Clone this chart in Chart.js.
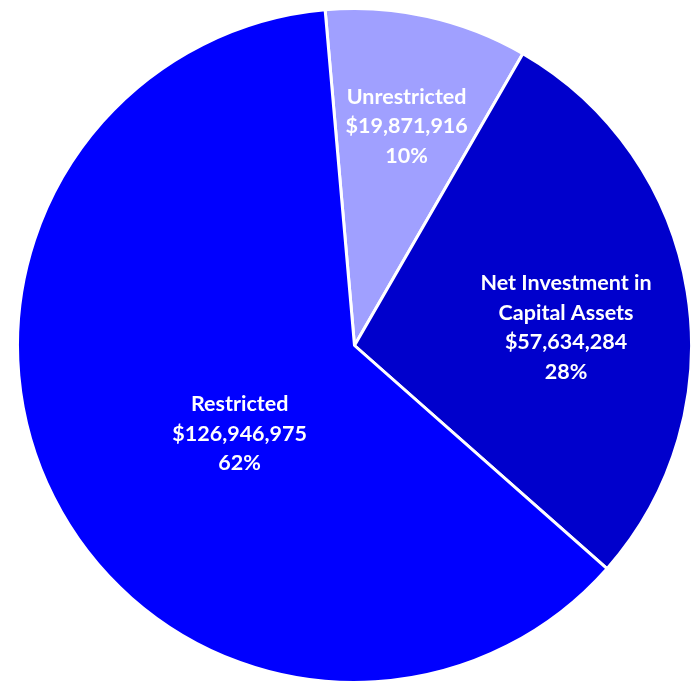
<!DOCTYPE html>
<html>
<head>
<meta charset="utf-8">
<script src="https://cdn.jsdelivr.net/npm/chart.js@4/dist/chart.umd.min.js"></script>
<style>
  html, body { margin: 0; padding: 0; background: #fff; }
  #wrap { width: 697px; height: 685px; }
</style>
</head>
<body>
<div id="wrap"><canvas id="pie" width="697" height="685"></canvas></div>
<script>
// net position categories, clockwise from the top
const labels = ['Unrestricted', 'Net Investment in Capital Assets', 'Restricted'];
const amounts = [19871916, 57634284, 126946975];
const percents = ['10%', '28%', '62%'];
const labelLines = [
  ['Unrestricted'],
  ['Net Investment in', 'Capital Assets'],
  ['Restricted']
];

const colors = ['#a0a0ff', '#0000cc', '#0000ff'];

// where each label sits: share of radius, tweak to mid angle (deg)
const labelPlace = [
  { r: 0.668, da: 0.9 },
  { r: 0.63, da: 4.4 },
  { r: 0.43, da: -10.8 }
];

const money = v => '$' + v.toLocaleString('en-US');

const sliceLabels = {
  id: 'sliceLabels',
  afterDatasetsDraw(chart) {
    const { ctx } = chart;
    const arcs = chart.getDatasetMeta(0).data;
    ctx.save();
    ctx.fillStyle = '#ffffff';
    ctx.font = 'bold 21.5px Lato, "Open Sans", sans-serif';
    ctx.textAlign = 'center';
    ctx.textBaseline = 'middle';
    const lh = 29.5;
    arcs.forEach((arc, i) => {
      const p = labelPlace[i];
      const mid = (arc.startAngle + arc.endAngle) / 2 + p.da * Math.PI / 180;
      const rad = arc.outerRadius * p.r;
      const cx = arc.x + Math.cos(mid) * rad;
      const cy = arc.y + Math.sin(mid) * rad;
      const lines = labelLines[i].concat([money(amounts[i]), percents[i]]);
      const top = cy - (lines.length - 1) * lh / 2;
      lines.forEach((t, j) => ctx.fillText(t, cx, top + j * lh));
    });
    ctx.restore();
  }
};

new Chart(document.getElementById('pie'), {
  type: 'pie',
  data: {
    labels: labels,
    datasets: [{
      data: amounts,
      backgroundColor: colors,
      borderColor: '#ffffff',
      borderWidth: 3
    }]
  },
  options: {
    responsive: false,
    animation: false,
    rotation: -5,
    layout: { padding: { left: 14, top: 7, right: 2, bottom: 1 } },
    plugins: {
      legend: { display: false },
      tooltip: { enabled: false }
    }
  },
  plugins: [sliceLabels]
});
</script>
</body>
</html>
